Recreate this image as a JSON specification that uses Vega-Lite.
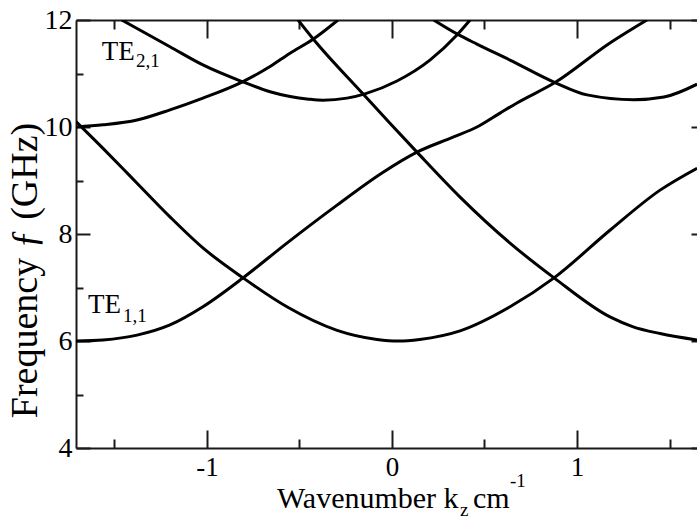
{
  "$schema": "https://vega.github.io/schema/vega-lite/v6.json",
  "width": 621,
  "height": 428,
  "autosize": {"type": "none"},
  "padding": {"left": 76, "top": 20, "right": 0, "bottom": 73},
  "background": "white",
  "config": {
    "view": {"stroke": null},
    "font": "'Liberation Serif', 'Times New Roman', serif",
    "axis": {
      "grid": false,
      "domainColor": "#1a1a1a",
      "domainWidth": 2,
      "tickColor": "#1a1a1a",
      "tickWidth": 2,
      "labelColor": "black",
      "labelFont": "'Liberation Serif', 'Times New Roman', serif",
      "titleFont": "'Liberation Serif', 'Times New Roman', serif",
      "titleColor": "black",
      "titleFontWeight": "normal"
    }
  },
  "datasets": {
    "curves": [
      {"curve": "C1", "k": -1.461, "f": 12.0},
      {"curve": "C1", "k": -1.2, "f": 11.5},
      {"curve": "C1", "k": -1.022, "f": 11.16},
      {"curve": "C1", "k": -0.811, "f": 10.85},
      {"curve": "C1", "k": -0.659, "f": 10.66},
      {"curve": "C1", "k": -0.551, "f": 10.57},
      {"curve": "C1", "k": -0.45, "f": 10.52},
      {"curve": "C1", "k": -0.373, "f": 10.5},
      {"curve": "C1", "k": -0.243, "f": 10.54},
      {"curve": "C1", "k": -0.146, "f": 10.62},
      {"curve": "C1", "k": 0.027, "f": 10.86},
      {"curve": "C1", "k": 0.205, "f": 11.25},
      {"curve": "C1", "k": 0.351, "f": 11.72},
      {"curve": "C1", "k": 0.422, "f": 12.0},
      {"curve": "C2", "k": -1.708, "f": 10.0},
      {"curve": "C2", "k": -1.562, "f": 10.04},
      {"curve": "C2", "k": -1.378, "f": 10.13},
      {"curve": "C2", "k": -1.2, "f": 10.32},
      {"curve": "C2", "k": -1.022, "f": 10.54},
      {"curve": "C2", "k": -0.811, "f": 10.84},
      {"curve": "C2", "k": -0.659, "f": 11.13},
      {"curve": "C2", "k": -0.551, "f": 11.38},
      {"curve": "C2", "k": -0.427, "f": 11.64},
      {"curve": "C2", "k": -0.292, "f": 12.0},
      {"curve": "C3", "k": -0.508, "f": 12.0},
      {"curve": "C3", "k": -0.427, "f": 11.65},
      {"curve": "C3", "k": -0.157, "f": 10.62},
      {"curve": "C3", "k": -0.011, "f": 10.07},
      {"curve": "C3", "k": 0.135, "f": 9.53},
      {"curve": "C3", "k": 0.368, "f": 8.69},
      {"curve": "C3", "k": 0.638, "f": 7.83},
      {"curve": "C3", "k": 0.876, "f": 7.18},
      {"curve": "C3", "k": 1.178, "f": 6.45},
      {"curve": "C3", "k": 1.3, "f": 6.27},
      {"curve": "C3", "k": 1.449, "f": 6.14},
      {"curve": "C3", "k": 1.649, "f": 6.02},
      {"curve": "C4", "k": -1.708, "f": 10.1},
      {"curve": "C4", "k": -1.562, "f": 9.6},
      {"curve": "C4", "k": -1.454, "f": 9.22},
      {"curve": "C4", "k": -1.378, "f": 8.95},
      {"curve": "C4", "k": -1.2, "f": 8.32},
      {"curve": "C4", "k": -1.022, "f": 7.74},
      {"curve": "C4", "k": -0.805, "f": 7.18},
      {"curve": "C4", "k": -0.568, "f": 6.64},
      {"curve": "C4", "k": -0.297, "f": 6.2},
      {"curve": "C4", "k": -0.081, "f": 6.03},
      {"curve": "C4", "k": 0.035, "f": 6.0},
      {"curve": "C4", "k": 0.15, "f": 6.03},
      {"curve": "C4", "k": 0.368, "f": 6.19},
      {"curve": "C4", "k": 0.638, "f": 6.64},
      {"curve": "C4", "k": 0.876, "f": 7.18},
      {"curve": "C4", "k": 1.178, "f": 8.07},
      {"curve": "C4", "k": 1.449, "f": 8.82},
      {"curve": "C4", "k": 1.649, "f": 9.23},
      {"curve": "C5", "k": -1.708, "f": 6.0},
      {"curve": "C5", "k": -1.562, "f": 6.02},
      {"curve": "C5", "k": -1.378, "f": 6.11},
      {"curve": "C5", "k": -1.2, "f": 6.3},
      {"curve": "C5", "k": -1.022, "f": 6.64},
      {"curve": "C5", "k": -0.805, "f": 7.18},
      {"curve": "C5", "k": -0.568, "f": 7.83},
      {"curve": "C5", "k": -0.297, "f": 8.54},
      {"curve": "C5", "k": -0.05, "f": 9.15},
      {"curve": "C5", "k": 0.135, "f": 9.53},
      {"curve": "C5", "k": 0.33, "f": 9.81},
      {"curve": "C5", "k": 0.459, "f": 10.0},
      {"curve": "C5", "k": 0.584, "f": 10.26},
      {"curve": "C5", "k": 0.676, "f": 10.45},
      {"curve": "C5", "k": 0.881, "f": 10.83},
      {"curve": "C5", "k": 1.178, "f": 11.57},
      {"curve": "C5", "k": 1.378, "f": 12.0},
      {"curve": "C6", "k": 0.225, "f": 12.0},
      {"curve": "C6", "k": 0.351, "f": 11.74},
      {"curve": "C6", "k": 0.459, "f": 11.55},
      {"curve": "C6", "k": 0.638, "f": 11.25},
      {"curve": "C6", "k": 0.881, "f": 10.83},
      {"curve": "C6", "k": 1.054, "f": 10.6},
      {"curve": "C6", "k": 1.308, "f": 10.51},
      {"curve": "C6", "k": 1.47, "f": 10.56},
      {"curve": "C6", "k": 1.649, "f": 10.8}
    ],
    "big": [
      {"label": "TE", "k": -1.569, "f": 11.25},
      {"label": "TE", "k": -1.643, "f": 6.52}
    ],
    "small": [
      {"label": "2,1", "k": -1.384, "f": 11.13},
      {"label": "1,1", "k": -1.454, "f": 6.36},
      {"label": "z", "k": 0.368, "f": 2.73},
      {"label": "-1", "k": 0.638, "f": 3.27}
    ],
    "xtitle": [
      {"label": "Wavenumber k", "k": -0.622, "f": 2.873},
      {"label": "cm", "k": 0.438, "f": 2.873}
    ]
  },
  "layer": [
    {
      "data": {"name": "curves"},
      "mark": {"type": "line", "color": "black", "strokeWidth": 3, "interpolate": "monotone", "clip": true},
      "encoding": {
        "x": {"field": "k", "type": "quantitative",
          "scale": {"domain": [-1.708, 1.6486], "nice": false, "zero": false},
          "axis": {"orient": "bottom", "values": [-1, 0, 1], "tickSize": -18, "labelFontSize": 27, "labelPadding": 24, "labelFlush": false, "title": null,
            "labelExpr": "datum.value < 0 ? '-' + abs(datum.value) : '' + datum.value"}},
        "y": {"field": "f", "type": "quantitative",
          "scale": {"domain": [4, 12], "nice": false, "zero": false},
          "axis": {"orient": "left", "values": [4, 6, 8, 10, 12], "tickSize": -14, "labelFontSize": 28, "labelPadding": 18,
            "title": "Frequency ƒ (GHz)", "titleFontSize": 38, "titleX": -40, "titleY": 250, "titleAngle": -90, "titleAlign": "center", "titleBaseline": "alphabetic"}},
        "detail": {"field": "curve"}
      }
    },
    {
      "data": {"name": "big"},
      "mark": {"type": "text", "fontSize": 27, "align": "left", "baseline": "alphabetic", "color": "black", "font": "'Liberation Serif', 'Times New Roman', serif"},
      "encoding": {
        "x": {"field": "k", "type": "quantitative",
          "scale": {"domain": [-1.708, 1.6486], "nice": false, "zero": false},
          "axis": {"orient": "bottom", "values": [-1.5, -0.5, 0.5, 1.5], "tickSize": -9, "labels": false, "domain": false, "title": null}},
        "y": {"field": "f", "type": "quantitative",
          "scale": {"domain": [4, 12], "nice": false, "zero": false},
          "axis": {"orient": "left", "values": [5, 7, 9, 11], "tickSize": -7, "labels": false, "domain": false, "title": null}},
        "text": {"field": "label"}
      }
    },
    {
      "data": {"name": "small"},
      "mark": {"type": "text", "fontSize": 19, "align": "left", "baseline": "alphabetic", "color": "black", "font": "'Liberation Serif', 'Times New Roman', serif"},
      "encoding": {
        "x": {"field": "k", "type": "quantitative",
          "scale": {"domain": [-1.708, 1.6486], "nice": false, "zero": false},
          "axis": {"orient": "top", "values": [-1, 0, 1], "tickSize": -18, "labels": false, "domain": true, "title": null}},
        "y": {"field": "f", "type": "quantitative",
          "scale": {"domain": [4, 12], "nice": false, "zero": false},
          "axis": {"orient": "right", "values": [4, 6, 8, 10, 12], "tickSize": -6, "labels": false, "domain": false, "title": null}},
        "text": {"field": "label"}
      }
    },
    {
      "data": {"name": "xtitle"},
      "mark": {"type": "text", "fontSize": 30, "align": "left", "baseline": "alphabetic", "color": "black", "font": "'Liberation Serif', 'Times New Roman', serif"},
      "encoding": {
        "x": {"field": "k", "type": "quantitative",
          "scale": {"domain": [-1.708, 1.6486], "nice": false, "zero": false},
          "axis": {"orient": "top", "values": [-1.5, -0.5, 0.5, 1.5], "tickSize": -9, "labels": false, "domain": false, "title": null}},
        "y": {"field": "f", "type": "quantitative",
          "scale": {"domain": [4, 12], "nice": false, "zero": false},
          "axis": null},
        "text": {"field": "label"}
      }
    }
  ],
  "resolve": {"axis": {"x": "independent", "y": "independent"}}
}
